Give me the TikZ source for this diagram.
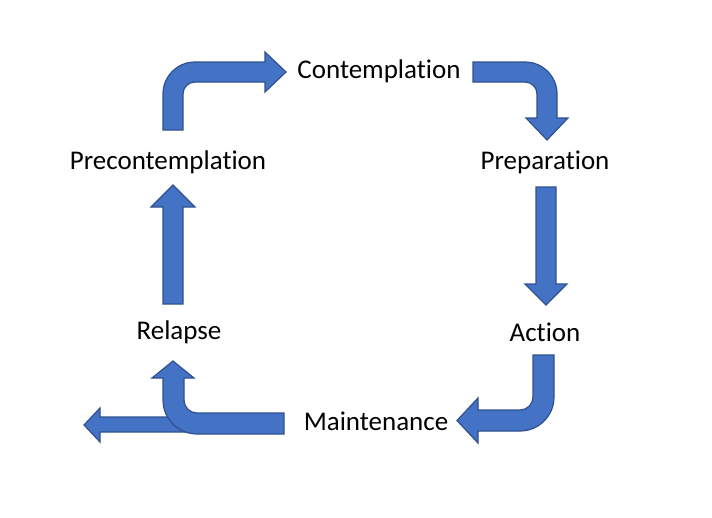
\documentclass[tikz,border=0pt]{standalone}
\usepackage{fontspec}
\setmainfont[Ligatures=NoCommon]{Carlito}
\definecolor{arrfill}{HTML}{4472C4}
\definecolor{arrline}{HTML}{2F528F}
\begin{document}
\begin{tikzpicture}[x=1pt,y=-1pt,
  blk/.style={fill=arrfill,draw=arrline,line width=1.2pt,line join=miter},
  lbl/.style={font=\fontsize{27}{32}\selectfont,inner sep=0pt,anchor=center}]
\useasboundingbox[fill=white] (0,0) rectangle (712,517);
% labels
\node[lbl] (contemp) at (379,71.5) {Contemplation};
\node[lbl] (precon) at (168,162.5) {Precontemplation};
\node[lbl] (prep) at (545,162.5) {Preparation};
\node[lbl] (action) at (545,332.5) {Action};
\node[lbl] (relapse) at (179,332.5) {Relapse};
\node[lbl] (maint) at (376,421.5) {Maintenance};
% Precontemplation -> Contemplation
\path[blk] (163,130) -- (163,94) .. controls (163,76.3) and (177.3,62) .. (195,62) -- (265,62) -- (265,52) -- (286,72) -- (265,92) -- (265,82) -- (195,82) .. controls (188.4,82) and (183,87.4) .. (183,94) -- (183,130) -- cycle;
% Contemplation -> Preparation
\path[blk] (473,62) -- (525,62) .. controls (542.7,62) and (557,76.3) .. (557,94) -- (557,118) -- (568,118) -- (547,140) -- (526,118) -- (537,118) -- (537,94) .. controls (537,87.4) and (531.6,82) .. (525,82) -- (473,82) -- cycle;
% Preparation -> Action
\path[blk] (536,187) -- (556,187) -- (556,284) -- (567,284) -- (546,305) -- (525,284) -- (536,284) -- cycle;
% Relapse -> Precontemplation
\path[blk] (163,304) -- (163,207) -- (151,207) -- (173,185) -- (195,207) -- (183,207) -- (183,304) -- cycle;
% Action -> Maintenance
\path[blk] (533,355) -- (554,355) -- (554,397) .. controls (554,415.8) and (538.8,431) .. (520,431) -- (478,431) -- (478,443) -- (457,420.5) -- (478,398) -- (478,410) -- (520,410) .. controls (527.2,410) and (533,404.2) .. (533,397) -- cycle;
% exit arrow (behind)
\path[blk] (200,417) -- (100,417) -- (100,408) -- (84,425) -- (100,442) -- (100,432) -- (200,432) -- cycle;
% Maintenance -> Relapse
\path[blk] (284,413) -- (284,434) -- (197,434) .. controls (178.2,434) and (163,418.8) .. (163,400) -- (163,378) -- (152,378) -- (173,361) -- (194,378) -- (184,378) -- (184,400) .. controls (184,407.2) and (189.8,413) .. (197,413) -- cycle;
\end{tikzpicture}
\end{document}
